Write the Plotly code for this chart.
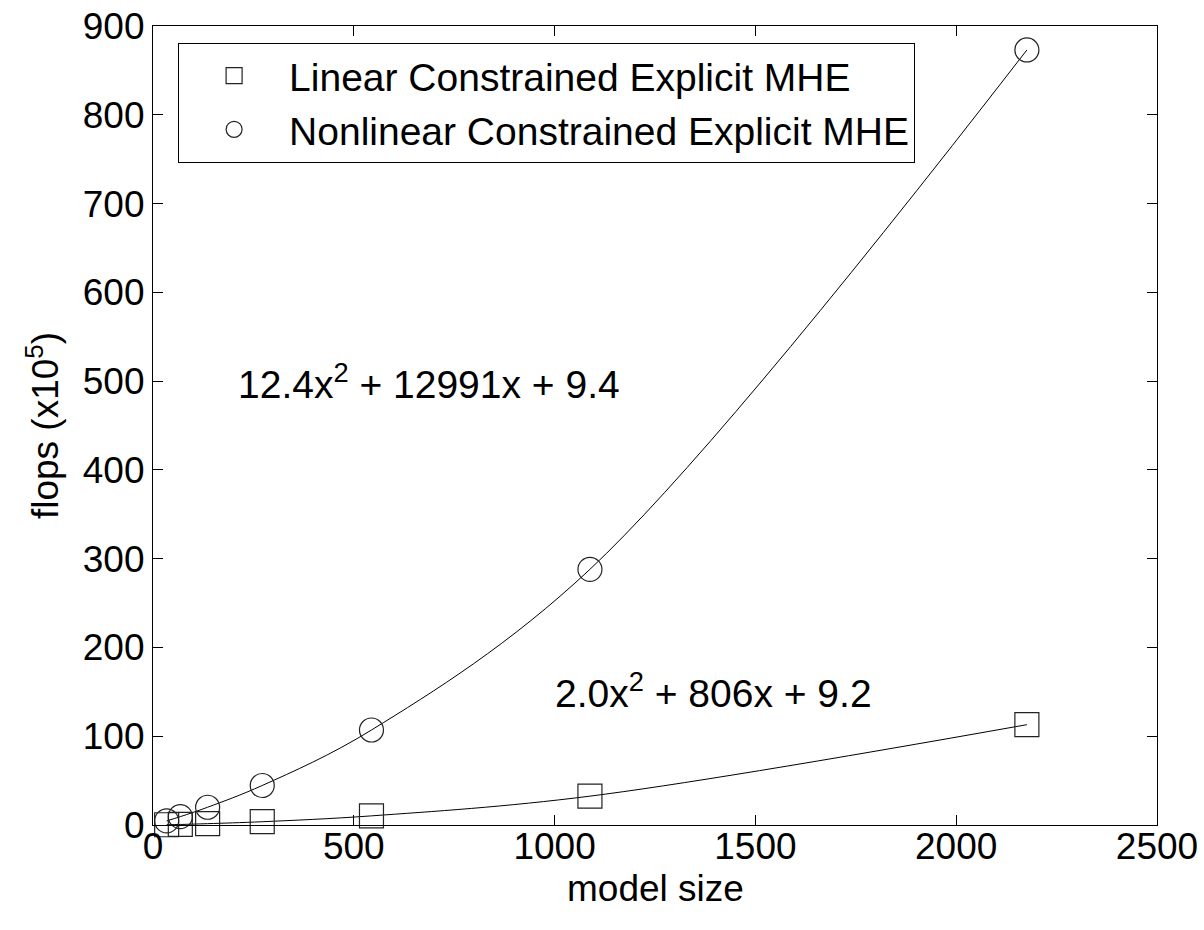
import plotly.graph_objects as go

model_size = [34, 68, 136, 272, 544, 1088, 2176]
linear_flops = [0.3, 0.6, 1.5, 3.7, 10.3, 32.5, 113]
nonlinear_flops = [4.6, 9.4, 20, 44.5, 107, 288, 873]

linear_label = "Linear Constrained Explicit MHE"
nonlinear_label = "Nonlinear Constrained Explicit MHE"
linear_fit_text = "2.0x<sup>2</sup> + 806x + 9.2"
nonlinear_fit_text = "12.4x<sup>2</sup> + 12991x + 9.4"
x_title = "model size"
y_title = "flops (x10<sup>5</sup>)"

FONT = "Liberation Sans, Arial, Helvetica, sans-serif"
FS = 37

fig = go.Figure()

fig.add_trace(go.Scatter(x=model_size, y=linear_flops, mode="lines",
                         line=dict(color="black", width=1, shape="spline"),
                         showlegend=False, hoverinfo="skip", cliponaxis=False))
fig.add_trace(go.Scatter(x=model_size, y=nonlinear_flops, mode="lines",
                         line=dict(color="black", width=1, shape="spline"),
                         showlegend=False, hoverinfo="skip", cliponaxis=False))
fig.add_trace(go.Scatter(x=model_size, y=linear_flops, mode="markers", name=linear_label,
                         marker=dict(symbol="square-open", size=24, color="#222",
                                     line=dict(width=1.2, color="#222")),
                         cliponaxis=False))
fig.add_trace(go.Scatter(x=model_size, y=nonlinear_flops, mode="markers", name=nonlinear_label,
                         marker=dict(symbol="circle-open", size=24, color="#222",
                                     line=dict(width=1.2, color="#222")),
                         cliponaxis=False))

fig.add_annotation(x=207, y=500, xref="x", yref="y", text=nonlinear_fit_text,
                   showarrow=False, xanchor="left", yanchor="middle",
                   font=dict(family=FONT, size=FS + 2, color="black"))
fig.add_annotation(x=996, y=152, xref="x", yref="y", text=linear_fit_text,
                   showarrow=False, xanchor="left", yanchor="middle",
                   font=dict(family=FONT, size=FS + 2, color="black"))
fig.add_annotation(x=0.5, y=-0.079, xref="paper", yref="paper", text=x_title,
                   showarrow=False, xanchor="center", yanchor="middle",
                   font=dict(family=FONT, size=FS, color="black"))

axis_common = dict(showgrid=False, zeroline=False, showline=True, linecolor="black",
                   linewidth=1.2, mirror="ticks", ticks="inside", ticklen=10,
                   tickcolor="black", tickwidth=1, automargin=False,
                   tickfont=dict(family=FONT, size=FS, color="black"))

fig.update_xaxes(range=[0, 2500], tickmode="array", tickvals=[0, 500, 1000, 1500, 2000, 2500],
                 ticklabelstandoff=-12, **axis_common)
fig.update_yaxes(range=[0, 900], tickmode="array",
                 tickvals=[0, 100, 200, 300, 400, 500, 600, 700, 800, 900],
                 title=dict(text=y_title,
                            font=dict(family=FONT, size=FS, color="black"), standoff=12),
                 **axis_common)

fig.update_layout(
    width=1204, height=930,
    margin=dict(l=153, r=47, t=26, b=105),
    paper_bgcolor="white", plot_bgcolor="white",
    font=dict(family=FONT, size=FS, color="black"),
    legend=dict(x=0.025, y=0.979, xanchor="left", yanchor="top",
                bordercolor="black", borderwidth=1, bgcolor="white",
                font=dict(family=FONT, size=FS + 2, color="black"),
                itemsizing="trace", itemwidth=100),
)

fig.write_html("out.html")
